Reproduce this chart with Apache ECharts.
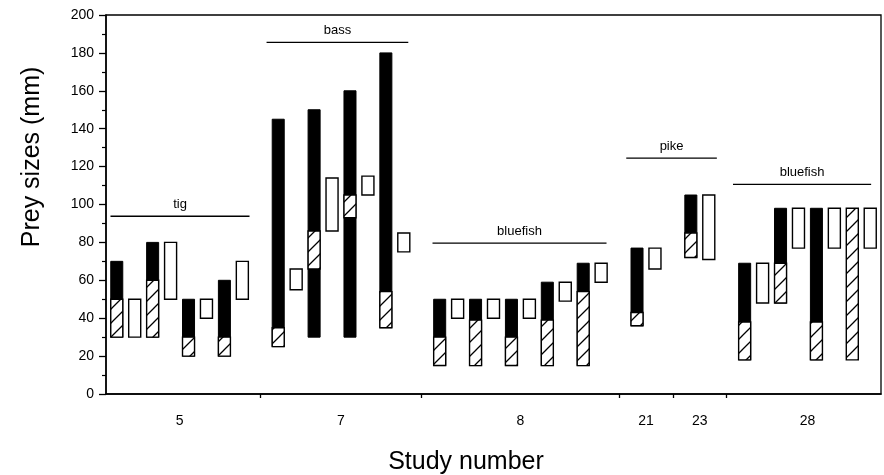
<!DOCTYPE html>
<html>
<head>
<meta charset="utf-8">
<title>Prey sizes</title>
<script src="https://cdn.jsdelivr.net/npm/echarts@6/dist/echarts.min.js"></script>
<style>
  html, body { margin: 0; padding: 0; background: #fff; }
  #chart { width: 884px; height: 475px; }
</style>
</head>
<body>
<div id="chart"></div>
<script>
// bar slots run left to right, one slot per bar; [slot, low, high] in mm
var blackBars = [
    [0, 30, 70], [2, 30, 80], [4, 20, 50], [6, 20, 60],
    [9, 25, 145], [11, 30, 150], [13, 30, 160], [15, 35, 180],
    [18, 15, 50], [20, 15, 50], [22, 15, 50], [24, 15, 59], [26, 15, 69],
    [29, 36, 77], [32, 72, 105],
    [35, 18, 69], [37, 48, 98], [39, 18, 98]
];
var hatchedBars = [
    [0, 30, 50], [2, 30, 60], [4, 20, 30], [6, 20, 30],
    [9, 25, 35], [11, 66, 86], [13, 93, 105], [15, 35, 54],
    [18, 15, 30], [20, 15, 39], [22, 15, 30], [24, 15, 39], [26, 15, 54],
    [29, 36, 43], [32, 72, 85],
    [35, 18, 38], [37, 48, 69], [39, 18, 38], [41, 18, 98]
];
var openBars = [
    [1, 30, 50], [3, 50, 80], [5, 40, 50], [7, 50, 70],
    [10, 55, 66], [12, 86, 114], [14, 105, 115], [16, 75, 85],
    [19, 40, 50], [21, 40, 50], [23, 40, 50], [25, 49, 59], [27, 59, 69],
    [30, 66, 77], [33, 71, 105],
    [36, 48, 69], [38, 77, 98], [40, 77, 98], [42, 77, 98]
];

var studyNames = ['5', '7', '8', '21', '23', '28'];
var studyCenters = [3.5, 12.5, 22.5, 29.5, 32.5, 38.5];
var studyBounds = [8, 17, 28, 31, 34];

var speciesNames = ['tig', 'bass', 'bluefish', 'pike', 'bluefish'];
var speciesFrom = [-0.35, 8.35, 17.6, 28.4, 34.35];
var speciesTo = [7.4, 16.25, 27.3, 33.45, 42.05];
var speciesLevel = [93.8, 185.6, 79.6, 124.5, 110.6];

var yTicks = [0, 20, 40, 60, 80, 100, 120, 140, 160, 180, 200];

var FONT = '"Liberation Sans", Arial, Helvetica, sans-serif';

// diagonal hatch fill
function makeHatch() {
    var s = 14;
    var c = document.createElement('canvas');
    c.width = s;
    c.height = s;
    var ctx = c.getContext('2d');
    ctx.fillStyle = '#fff';
    ctx.fillRect(0, 0, s, s);
    ctx.strokeStyle = '#000';
    ctx.lineWidth = 1.3;
    ctx.beginPath();
    ctx.moveTo(-1, s + 1); ctx.lineTo(s + 1, -1);
    ctx.moveTo(-2, 2); ctx.lineTo(2, -2);
    ctx.moveTo(s - 2, s + 2); ctx.lineTo(s + 2, s - 2);
    ctx.stroke();
    return c;
}
var hatch = makeHatch();

function barRender(style) {
    return function (params, api) {
        var x = api.value(0);
        var top = api.coord([x, api.value(2)]);
        var bottom = api.coord([x, api.value(1)]);
        var w = api.size([1, 0])[0] * 0.67;
        return {
            type: 'rect',
            shape: { x: top[0] - w / 2, y: top[1], width: w, height: bottom[1] - top[1] },
            style: style
        };
    };
}

var speciesData = speciesNames.map(function (n, i) {
    return [speciesFrom[i], speciesTo[i], speciesLevel[i], i];
});

function speciesRender(params, api) {
    var a = api.coord([api.value(0), api.value(2)]);
    var b = api.coord([api.value(1), api.value(2)]);
    var name = speciesNames[api.value(3)];
    return {
        type: 'group',
        children: [{
            type: 'line',
            shape: { x1: a[0], y1: a[1], x2: b[0], y2: b[1] },
            style: { stroke: '#000', lineWidth: 1.3 }
        }, {
            type: 'text',
            x: (a[0] + b[0]) / 2,
            y: a[1] - 5,
            style: { text: name, font: '13px ' + FONT, fill: '#000', align: 'center', verticalAlign: 'bottom' }
        }]
    };
}

var myChart = echarts.init(document.getElementById('chart'), null, { renderer: 'canvas' });
var option = {
    backgroundColor: '#fff',
    animation: false,
    grid: {
        left: 106, right: 3, top: 15, bottom: 81,
        show: true, borderColor: '#000', borderWidth: 1.3
    },
    // axis titles sit off-centre in the original, so they are placed by hand
    graphic: [{
        type: 'text',
        x: 466,
        y: 462,
        style: { text: 'Study number', font: '25px ' + FONT, fill: '#000', align: 'center', verticalAlign: 'middle' }
    }, {
        type: 'text',
        x: 32,
        y: 157,
        rotation: Math.PI / 2,
        style: { text: 'Prey sizes (mm)', font: '25px ' + FONT, fill: '#000', align: 'center', verticalAlign: 'middle' }
    }],
    xAxis: {
        type: 'value',
        min: -0.6,
        max: 42.6,
        splitLine: { show: false },
        axisLine: { show: true, onZero: false, lineStyle: { color: '#000', width: 1.5 } },
        axisTick: { show: true, customValues: studyBounds, length: 4, lineStyle: { color: '#000', width: 1.3 } },
        axisLabel: {
            customValues: studyCenters,
            margin: 20,
            fontFamily: FONT,
            fontSize: 14,
            color: '#000',
            formatter: function (v) {
                var i = studyCenters.indexOf(v);
                return i >= 0 ? studyNames[i] : '';
            }
        }
    },
    yAxis: {
        type: 'value',
        min: 0,
        max: 200,
        interval: 20,
        splitLine: { show: false },
        axisLine: { show: true, onZero: false, lineStyle: { color: '#000', width: 1.5 } },
        axisTick: { show: true, length: 7, lineStyle: { color: '#000', width: 1.3 } },
        minorTick: { show: true, splitNumber: 2, length: 4, lineStyle: { color: '#000', width: 1.2 } },
        axisLabel: {
            margin: 12,
            fontFamily: FONT,
            fontSize: 14,
            color: '#000',
            customValues: yTicks
        }
    },
    series: [{
        name: 'black',
        type: 'custom',
        renderItem: barRender({ fill: '#000', stroke: '#000', lineWidth: 1 }),
        encode: { x: 0, y: [1, 2] },
        data: blackBars,
        z: 2
    }, {
        name: 'hatched',
        type: 'custom',
        renderItem: barRender({ fill: { image: hatch, repeat: 'repeat' }, stroke: '#000', lineWidth: 1.4 }),
        encode: { x: 0, y: [1, 2] },
        data: hatchedBars,
        z: 3
    }, {
        name: 'open',
        type: 'custom',
        renderItem: barRender({ fill: '#fff', stroke: '#000', lineWidth: 1.4 }),
        encode: { x: 0, y: [1, 2] },
        data: openBars,
        z: 3
    }, {
        name: 'species',
        type: 'custom',
        renderItem: speciesRender,
        encode: { x: [0, 1], y: 2 },
        data: speciesData,
        z: 4
    }]
};
myChart.setOption(option);
</script>
</body>
</html>
